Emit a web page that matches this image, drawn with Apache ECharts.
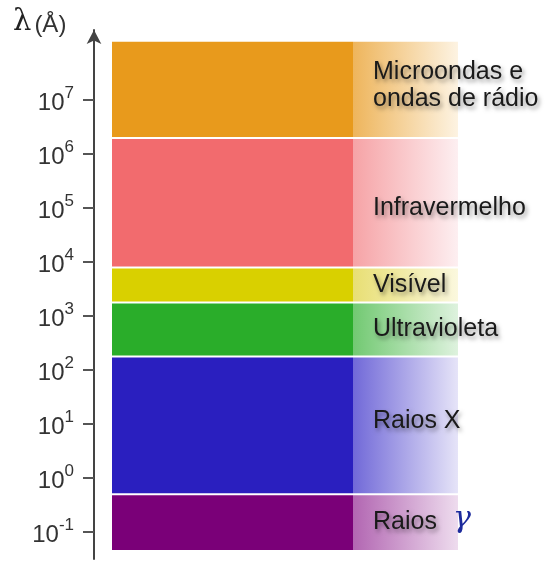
<!DOCTYPE html>
<html lang="pt">
<head>
<meta charset="UTF-8">
<title>Espectro eletromagnético</title>
<script src="https://cdn.jsdelivr.net/npm/echarts@6/dist/echarts.min.js"></script>
<style>
  html, body { margin: 0; padding: 0; background: #fff; }
  #chart { width: 545px; height: 563px; }
</style>
</head>
<body>
<div id="chart"></div>
<script>
// faixas do espectro, limites em log10(λ / Å)
const bandNames = ['Raios', 'Raios X', 'Ultravioleta', 'Visível', 'Infravermelho', 'Microondas e\nondas de rádio'];
const bandLow  = [-1.35, -0.3, 2.25, 3.25, 3.9, 6.3];
const bandHigh = [-0.3, 2.25, 3.25, 3.9, 6.3, 8.1];
const tickExps = [-1, 0, 1, 2, 3, 4, 5, 6, 7];

// cor cheia, início e fim do degradê
const bandColors = [
  ['#7a0078', '#b266b2', '#eedcee'],
  ['#2a1fbf', '#7169d8', '#e6e4f8'],
  ['#2aad2a', '#72c972', '#def2de'],
  ['#d9d000', '#e8df74', '#fbf8de'],
  ['#f26b6e', '#f6a3a6', '#fdeff1'],
  ['#e89a1c', '#eeb55c', '#fdf3e2']
];
// pequeno ajuste vertical dos rótulos (px)
const labelShift = [0, -4, 0, 0, 5, -4];

const FONT = '"Liberation Sans", Arial, sans-serif';

const chart = echarts.init(document.getElementById('chart'));

const data = bandNames.map((n, i) => [i, bandLow[i], bandHigh[i]]);

chart.setOption({
  animation: false,
  graphic: [{
    type: 'text', left: 13, top: 8,
    style: {
      text: '{l|λ}{u|(Å)}',
      rich: {
        l: { fontFamily: 'DejaVu Serif', fontSize: 29, fill: '#222', verticalAlign: 'bottom', lineHeight: 29 },
        u: { fontFamily: FONT, fontSize: 24, fill: '#333', verticalAlign: 'bottom', lineHeight: 29, padding: [0, 0, 0, 3] }
      }
    }
  }],
  grid: { left: 94, right: 0, top: 30, bottom: 4 },
  xAxis: { type: 'value', min: 0, max: 451, show: false },
  yAxis: {
    type: 'value', min: -1.5, max: 8.3,
    axisLine: {
      show: true,
      symbol: ['none', 'arrow'],
      symbolSize: [11, 14],
      lineStyle: { color: '#444', width: 2 }
    },
    axisTick: { show: true, length: 11, customValues: tickExps, lineStyle: { color: '#555', width: 2 } },
    axisLabel: {
      customValues: tickExps,
      margin: 20,
      formatter: v => '{b|10}{s|' + v + '}',
      rich: {
        b: { fontFamily: FONT, fontSize: 24, color: '#333', verticalAlign: 'bottom', lineHeight: 30 },
        s: { fontFamily: FONT, fontSize: 17, color: '#333', verticalAlign: 'top', lineHeight: 30 }
      }
    },
    splitLine: { show: false }
  },
  series: [{
    type: 'custom',
    data: data,
    renderItem: function (params, api) {
      const i = api.value(0);
      const top = api.coord([18, api.value(2)]);
      const bot = api.coord([364, api.value(1)]);
      const midX = api.coord([259, 0])[0];
      const y = top[1] + 1, h = bot[1] - top[1] - 2;
      const c = bandColors[i];
      const tx = 373, ty = (top[1] + bot[1]) / 2 + labelShift[i];
      const shadow = { textShadowColor: 'rgba(0,0,0,0.4)', textShadowBlur: 4, textShadowOffsetX: 2, textShadowOffsetY: 3 };
      const children = [
        { type: 'rect', shape: { x: top[0], y: y, width: midX - top[0], height: h }, style: { fill: c[0] } },
        {
          type: 'rect', shape: { x: midX, y: y, width: bot[0] - midX, height: h },
          style: { fill: new echarts.graphic.LinearGradient(0, 0, 1, 0, [{ offset: 0, color: c[1] }, { offset: 1, color: c[2] }]) }
        },
        {
          type: 'text', x: tx, y: ty,
          style: Object.assign({
            text: bandNames[i], fill: '#1a1a1a', font: '25px ' + FONT,
            lineHeight: 27, verticalAlign: 'middle', align: 'left'
          }, shadow)
        }
      ];
      if (i === 0) {
        children.push({
          type: 'text', x: 453, y: ty - 3,
          style: { text: 'γ', fill: '#1c2a9c', font: 'italic 30px "DejaVu Serif", serif', verticalAlign: 'middle' }
        });
      }
      return { type: 'group', children: children };
    }
  }]
});
</script>
</body>
</html>
